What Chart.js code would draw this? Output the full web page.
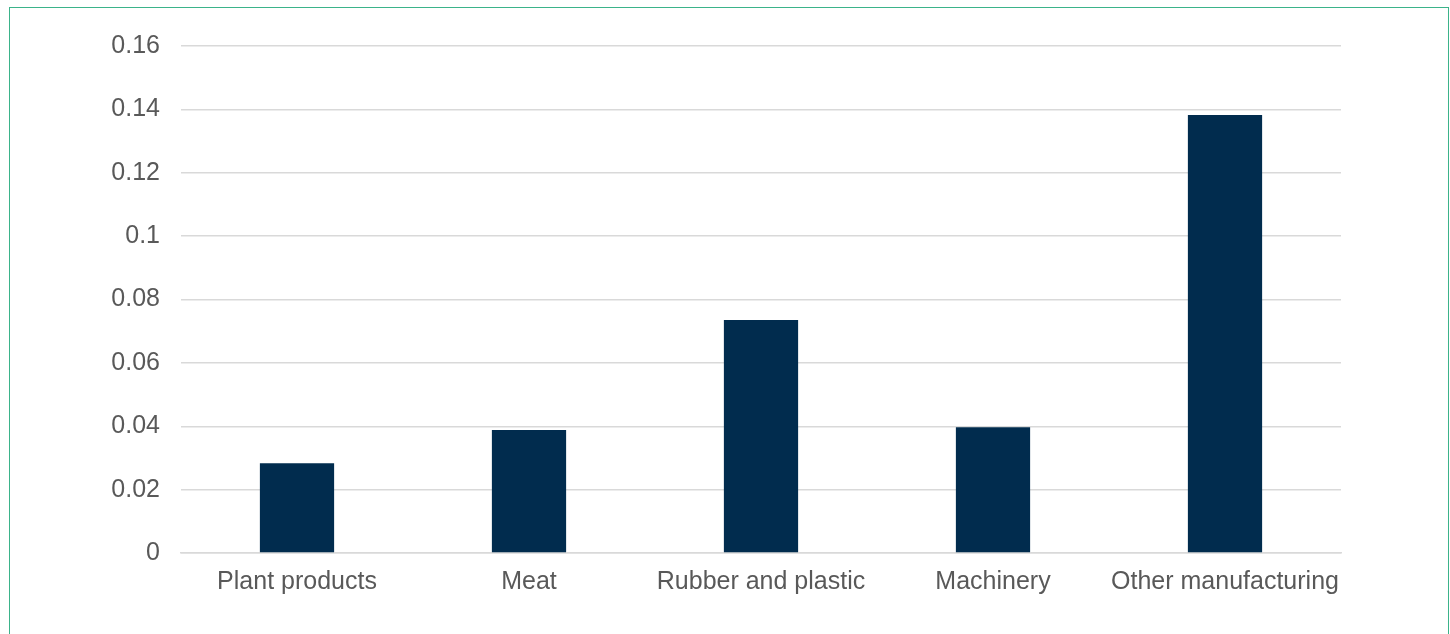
<!DOCTYPE html>
<html>
<head>
<meta charset="utf-8">
<script src="https://cdn.jsdelivr.net/npm/chart.js@4"></script>
<style>
  body { margin: 0; background: #fff; overflow: hidden; }
  #box {
    position: absolute; left: 9px; top: 7px;
    width: 1438px; height: 650px;
    border: 1px solid #3bb38a;
  }
</style>
</head>
<body>
<div id="box"><canvas id="sectorChart"></canvas></div>
<script>
const categories = ["Plant products", "Meat", "Rubber and plastic", "Machinery", "Other manufacturing"];
const values = [0.0283, 0.0388, 0.0735, 0.0397, 0.1382];
const yTicks = [0, 0.02, 0.04, 0.06, 0.08, 0.1, 0.12, 0.14, 0.16];

document.addEventListener("DOMContentLoaded", function () {
    const ctx = document.getElementById("sectorChart").getContext("2d");

    new Chart(ctx, {
        type: "bar",
        data: {
            labels: categories,
            datasets: [{
                data: values,
                backgroundColor: "#012c4e",
                barPercentage: 0.64,
                categoryPercentage: 0.5
            }]
        },
        options: {
            responsive: true,
            maintainAspectRatio: false,
            animation: false,
            layout: { padding: { top: 38, right: 107, bottom: 60, left: 0 } },
            plugins: {
                legend: { display: false },
                tooltip: { enabled: false }
            },
            scales: {
                x: {
                    grid: { display: false },
                    border: { color: "#d9d9d9", width: 1.5 },
                    ticks: {
                        color: "#595959",
                        font: { family: "'Liberation Sans', Arial, sans-serif", size: 25 },
                        padding: 6,
                        maxRotation: 0
                    },
                    afterFit: scale => { scale.height = 45; }
                },
                y: {
                    min: 0,
                    max: 0.16,
                    afterBuildTicks: scale => {
                        scale.ticks = yTicks.map(v => ({ value: v }));
                    },
                    grid: { color: "#d9d9d9", lineWidth: 1.5, drawTicks: false },
                    border: { display: false },
                    ticks: {
                        color: "#595959",
                        font: { family: "'Liberation Sans', Arial, sans-serif", size: 25 },
                        padding: 21,
                        callback: v => String(+v.toFixed(2))
                    },
                    afterFit: scale => { scale.width = 171; }
                }
            }
        }
    });
});
</script>
</body>
</html>
